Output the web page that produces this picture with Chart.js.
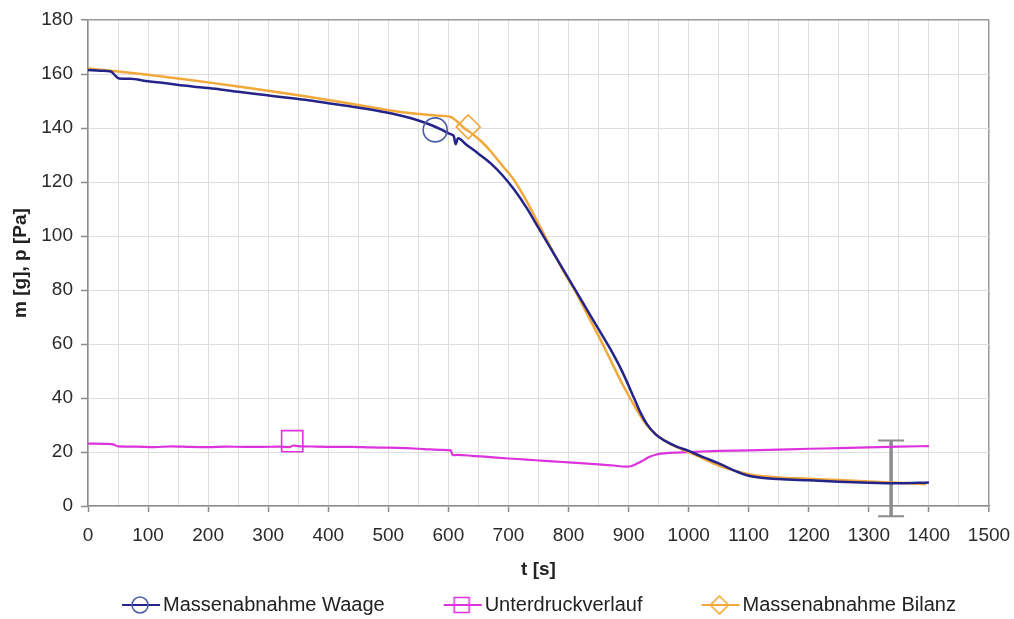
<!DOCTYPE html>
<html>
<head>
<meta charset="utf-8">
<script src="https://cdn.jsdelivr.net/npm/chart.js"></script>
<style>
  html, body { margin: 0; padding: 0; background: #ffffff; }
  #chart { display: block; width: 1014px; height: 619px; }
</style>
</head>
<body>
<canvas id="chart" width="1014" height="619"></canvas>
<script>
// Mass loss measured by the scale (t in s, m in g)
const timeWaage = [0, 20, 38, 45, 52, 70, 100, 130, 160, 190, 220, 250, 280, 310, 340, 370, 400, 430, 460, 490, 520, 550, 570, 590, 605, 609, 612, 616, 630, 650, 670, 690, 710, 730, 750, 770, 790, 810, 830, 850, 870, 890, 910, 920, 930, 945, 960, 980, 1000, 1025, 1050, 1075, 1100, 1125, 1150, 1200, 1250, 1300, 1350, 1400];
const massWaage = [161.5, 161.2, 160.9, 159.5, 158.3, 158.2, 157.3, 156.6, 155.7, 155.0, 154.3, 153.4, 152.6, 151.8, 151.0, 150.2, 149.2, 148.2, 147.2, 146.0, 144.6, 142.8, 141.2, 139.2, 137.6, 137.0, 134.0, 136.2, 133.8, 130.5, 127.0, 122.5, 117.0, 110.5, 103.0, 95.5, 88.0, 80.5, 73.0, 65.5, 58.0, 49.5, 39.5, 34.5, 30.5, 26.5, 24.2, 22.0, 20.4, 18.0, 15.8, 13.2, 11.2, 10.4, 10.0, 9.5, 9.0, 8.6, 8.4, 8.7];

// Mass loss from the balance calculation
const timeBilanz = [0, 50, 100, 150, 200, 250, 300, 350, 400, 450, 500, 550, 580, 603, 615, 625, 640, 655, 670, 690, 710, 730, 750, 770, 790, 810, 830, 850, 870, 890, 910, 930, 945, 960, 980, 1000, 1025, 1050, 1075, 1100, 1125, 1150, 1200, 1250, 1300, 1350, 1395];
const massBilanz = [162.0, 160.9, 159.7, 158.3, 156.9, 155.4, 153.8, 152.1, 150.4, 148.5, 146.6, 145.2, 144.6, 144.2, 142.3, 140.2, 137.8, 135.0, 131.5, 126.0, 120.5, 113.0, 104.5, 96.0, 87.5, 80.0, 71.5, 63.0, 54.0, 45.0, 37.0, 30.0, 26.6, 24.2, 21.8, 20.0, 17.5, 15.0, 13.2, 11.8, 11.0, 10.6, 10.1, 9.6, 9.1, 8.6, 8.1];

// Negative pressure (Pa)
const timeDruck = [0, 30, 42, 50, 80, 110, 140, 170, 200, 230, 260, 290, 320, 335, 342, 350, 380, 410, 440, 470, 500, 530, 560, 590, 604, 607, 615, 640, 670, 700, 730, 760, 790, 820, 850, 875, 895, 905, 915, 925, 935, 945, 960, 980, 1000, 1050, 1100, 1150, 1200, 1250, 1300, 1350, 1400];
const druckVerlauf = [23.1, 23.0, 22.8, 22.1, 22.0, 21.8, 22.1, 21.9, 21.8, 22.0, 21.9, 21.9, 22.0, 21.8, 22.4, 22.2, 22.0, 21.9, 21.9, 21.7, 21.6, 21.4, 21.1, 20.8, 20.6, 18.8, 18.9, 18.6, 18.1, 17.6, 17.2, 16.7, 16.3, 15.9, 15.4, 15.0, 14.6, 14.8, 15.8, 17.0, 18.2, 19.0, 19.5, 19.8, 20.0, 20.4, 20.6, 20.9, 21.2, 21.4, 21.7, 22.0, 22.2];

// Single highlighted marker of each series: Waage, Unterdruck, Bilanz
const markerTimes = [578, 340, 633];
const markerValues = [139.3, 24.0, 140.4];

// Error bar at the end of the run
const errorTimes = [1337];
const errorLow = [-3.8];
const errorHigh = [24.3];

const seriesNames = ['Massenabnahme Waage', 'Unterdruckverlauf', 'Massenabnahme Bilanz'];
const xTickLabels = ['0', '100', '200', '300', '400', '500', '600', '700', '800', '900', '1000', '1100', '1200', '1300', '1400', '1500'];
const yTickLabels = ['0', '20', '40', '60', '80', '100', '120', '140', '160', '180'];
const xAxisTitle = 't [s]';
const yAxisTitle = 'm [g], p [Pa]';

const COL_WAAGE = '#24248a';
const COL_WAAGE_MARK = '#4d5ea8';
const COL_DRUCK = '#dd33dd';
const COL_BILANZ = '#f2a93b';

Chart.defaults.font.family = '"Liberation Sans", Arial, sans-serif';

const pts = (xs, ys) => xs.map((x, i) => ({ x: x, y: ys[i] }));

function markerPath(g, style, cx, cy, r) {
  g.beginPath();
  if (style === 'circle') {
    g.arc(cx, cy, r, 0, Math.PI * 2);
  } else if (style === 'rect') {
    g.rect(cx - r, cy - r, 2 * r, 2 * r);
  } else {
    g.moveTo(cx, cy - r); g.lineTo(cx + r, cy); g.lineTo(cx, cy + r); g.lineTo(cx - r, cy); g.closePath();
  }
  g.stroke();
}

// Legend swatch: short line with the series marker on it
function legendSwatch(lineColor, markColor, style, r) {
  const c = document.createElement('canvas');
  c.width = 96; c.height = 24;
  const g = c.getContext('2d');
  g.strokeStyle = lineColor; g.lineWidth = 2;
  g.beginPath(); g.moveTo(57, 12); g.lineTo(95, 12); g.stroke();
  g.strokeStyle = markColor; g.lineWidth = 1.6;
  markerPath(g, style, 75, 12, r);
  return c;
}

const swatches = [
  legendSwatch(COL_WAAGE, COL_WAAGE_MARK, 'circle', 8),
  legendSwatch(COL_DRUCK, COL_DRUCK, 'rect', 7.5),
  legendSwatch(COL_BILANZ, COL_BILANZ, 'diamond', 9)
];

const errorBarPlugin = {
  id: 'errorBar',
  beforeDatasetsDraw(chart) {
    const { ctx, scales: { x, y } } = chart;
    ctx.save();
    ctx.strokeStyle = '#8c8c8c';
    errorTimes.forEach((t, i) => {
      const px = x.getPixelForValue(t);
      const top = y.getPixelForValue(errorHigh[i]);
      const bot = y.getPixelForValue(errorLow[i]);
      ctx.lineWidth = 3.5;
      ctx.beginPath(); ctx.moveTo(px, top); ctx.lineTo(px, bot); ctx.stroke();
      ctx.lineWidth = 2;
      ctx.beginPath();
      ctx.moveTo(px - 13, top); ctx.lineTo(px + 13, top);
      ctx.moveTo(px - 13, bot); ctx.lineTo(px + 13, bot);
      ctx.stroke();
    });
    ctx.restore();
  }
};

const lineStyle = { pointRadius: 0, pointHoverRadius: 0, fill: false, cubicInterpolationMode: 'monotone' };

new Chart(document.getElementById('chart'), {
  type: 'line',
  data: {
    datasets: [
      { label: 'marker-waage', data: [{ x: markerTimes[0], y: markerValues[0] }], showLine: false,
        pointStyle: 'circle', pointRadius: 12, borderColor: COL_WAAGE_MARK, backgroundColor: 'rgba(0,0,0,0)', pointBorderWidth: 1.6 },
      { label: 'marker-druck', data: [{ x: markerTimes[1], y: markerValues[1] }], showLine: false,
        pointStyle: 'rect', pointRadius: 15, borderColor: COL_DRUCK, backgroundColor: 'rgba(0,0,0,0)', pointBorderWidth: 1.6 },
      { label: 'marker-bilanz', data: [{ x: markerTimes[2], y: markerValues[2] }], showLine: false,
        pointStyle: 'rectRot', pointRadius: 12, borderColor: COL_BILANZ, backgroundColor: 'rgba(0,0,0,0)', pointBorderWidth: 1.6 },
      Object.assign({ label: seriesNames[0], data: pts(timeWaage, massWaage), borderColor: COL_WAAGE, borderWidth: 2.5 }, lineStyle),
      Object.assign({ label: seriesNames[2], data: pts(timeBilanz, massBilanz), borderColor: COL_BILANZ, borderWidth: 2.5 }, lineStyle),
      Object.assign({ label: seriesNames[1], data: pts(timeDruck, druckVerlauf), borderColor: COL_DRUCK, borderWidth: 2.2 }, lineStyle)
    ]
  },
  options: {
    responsive: false,
    animation: false,
    events: [],
    layout: { padding: { left: 40, right: 25, top: 20, bottom: -6 } },
    plugins: {
      tooltip: { enabled: false },
      legend: {
        position: 'bottom',
        labels: {
          usePointStyle: true,
          pointStyleWidth: 80,
          boxHeight: 20,
          padding: 10,
          color: '#222222',
          font: { size: 20 },
          generateLabels: () => seriesNames.map((name, i) => ({
            text: name,
            pointStyle: swatches[i],
            fillStyle: 'rgba(0,0,0,0)',
            strokeStyle: 'rgba(0,0,0,0)',
            lineWidth: 0,
            fontColor: '#222222',
            hidden: false,
            datasetIndex: 3 + i
          }))
        }
      }
    },
    scales: {
      x: {
        type: 'linear',
        min: 0,
        max: 1500,
        ticks: {
          stepSize: 50,
          autoSkip: false,
          maxRotation: 0,
          padding: 12,
          color: '#2a2a2a',
          font: { size: 19 },
          callback: v => (v % 100 === 0 ? xTickLabels[v / 100] : '')
        },
        grid: {
          color: c => (c.tick && c.tick.value === 1500 ? '#9a9a9a' : '#dedede'),
          lineWidth: c => (c.tick && c.tick.value === 1500 ? 1.5 : 1),
          tickLength: 6,
          tickColor: c => (c.tick && c.tick.value % 100 === 0 ? '#8c8c8c' : 'rgba(0,0,0,0)'),
          tickWidth: 1.5
        },
        border: { color: '#8c8c8c', width: 1.5 },
        title: { display: true, text: xAxisTitle, color: '#222222', font: { size: 19, weight: 'bold' }, padding: { top: 0, bottom: 4 } },
        afterFit: s => { s.height = 79; s.paddingLeft = 0; s.paddingRight = 0; }
      },
      y: {
        min: 0,
        max: 180,
        ticks: {
          stepSize: 20,
          padding: 8,
          color: '#2a2a2a',
          font: { size: 19 },
          callback: v => yTickLabels[v / 20]
        },
        grid: {
          color: c => (c.tick && c.tick.value === 180 ? '#9a9a9a' : '#dedede'),
          lineWidth: c => (c.tick && c.tick.value === 180 ? 1.5 : 1),
          tickLength: 7,
          tickColor: '#8c8c8c',
          tickWidth: 1.5
        },
        border: { color: '#8c8c8c', width: 1.5 },
        title: { display: true, text: yAxisTitle, color: '#222222', font: { size: 19, weight: 'bold' }, padding: { top: -31, bottom: 0 } },
        afterFit: s => { s.width = 48; }
      }
    }
  },
  plugins: [errorBarPlugin]
});
</script>
</body>
</html>
